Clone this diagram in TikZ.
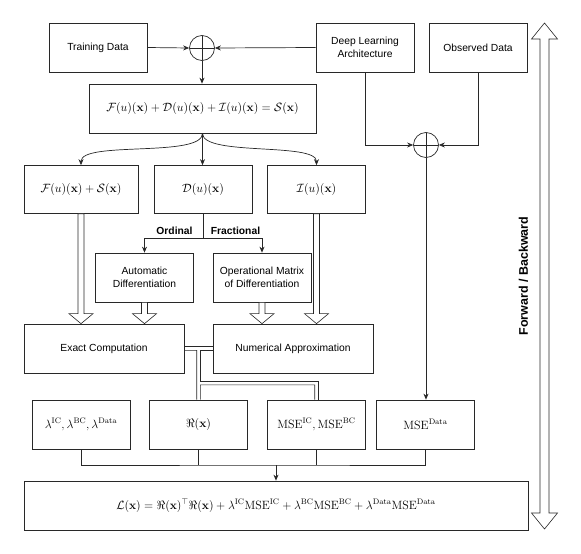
\documentclass[tikz,border=0pt]{standalone}
\usepackage{amsmath, amssymb}
\usepackage[no-math]{fontspec}
\setmainfont{Liberation Sans}
\usetikzlibrary{arrows.meta, calc}
\definecolor{lineDark}{RGB}{40, 40, 40}

% hollow (block) arrow pointing down, x taken from #1
\newcommand{\hollowdown}[2]{%
  \draw[hollowarrow] let \p1=(#1), \p2=(#2) in
    (\x1-3pt,\y1) -- (\x1-3pt,\y2+10pt) -- (\x1-12pt,\y2+10pt) -- (\x1,\y2)
    -- (\x1+12pt,\y2+10pt) -- (\x1+3pt,\y2+10pt) -- (\x1+3pt,\y1) -- cycle;}

\begin{document}
\begin{tikzpicture}[x=1pt, y=-1pt, line width=0.7pt, lineDark,
    procbox/.style={draw=lineDark, text=black, minimum width=98pt, minimum height=49pt,
      align=center, inner sep=2pt, font=\fontsize{10.3}{12.4}\selectfont},
    mathbox/.style={procbox, font=\fontsize{12}{14}\selectfont},
    sumnode/.style={circle, draw=lineDark, minimum size=25pt, inner sep=0pt,
      path picture={\draw (path picture bounding box.north) -- (path picture bounding box.south)
        (path picture bounding box.west) -- (path picture bounding box.east);}},
    arr/.style={-{Stealth[length=6pt,width=5pt]}},
    linkline/.style={line width=0.6pt, line join=miter},
    hollowarrow/.style={draw=lineDark, fill=white, line width=0.6pt, line join=miter},
    lbl/.style={text=black, font=\bfseries\fontsize{10.3}{12.4}\selectfont, inner sep=1pt}]
  \useasboundingbox (0,0) rectangle (581,554);

  % top row
  \node[procbox] (train) at (98,47.5) {Training Data};
  \node[sumnode] (sumA) at (202,48) {};
  \node[procbox] (dla) at (365,47.5) {Deep Learning\\Architecture};
  \node[procbox] (obs) at (478,47.5) {Observed Data};
  \node[sumnode] (sumB) at (426,145) {};

  \node[mathbox, minimum width=227pt, font=\fontsize{11.5}{14}\selectfont] (mainEq) at (202.5,108.5)
    {$\mathcal{F}(u)(\mathbf{x})+\mathcal{D}(u)(\mathbf{x})+\mathcal{I}(u)(\mathbf{x})=\mathcal{S}(\mathbf{x})$};

  % operators
  \node[mathbox, minimum width=114pt, minimum height=48pt] (fs) at (81,189.5) {$\mathcal{F}(u)(\mathbf{x})+\mathcal{S}(\mathbf{x})$};
  \node[mathbox, minimum height=48pt] (dop) at (203,189.5) {$\mathcal{D}(u)(\mathbf{x})$};
  \node[mathbox, minimum height=48pt] (iop) at (316.5,189.5) {$\mathcal{I}(u)(\mathbf{x})$};

  \node[procbox] (autodiff) at (144.5,277.5) {Automatic\\Differentiation};
  \node[procbox] (opmat) at (262,277.5) {Operational Matrix\\of Differentiation};

  \node[procbox, minimum width=160pt] (exact) at (104,348.5) {Exact Computation};
  \node[procbox, minimum width=160pt] (numapprox) at (293,348.5) {Numerical Approximation};

  % loss terms
  \node[mathbox] (lam) at (81,424.5) {$\lambda^{\mathrm{IC}},\lambda^{\mathrm{BC}},\lambda^{\mathrm{Data}}$};
  \node[mathbox] (res) at (198.5,424.5) {$\Re(\mathbf{x})$};
  \node[mathbox] (mseBC) at (316.5,424.5) {$\mathrm{MSE}^{\mathrm{IC}},\mathrm{MSE}^{\mathrm{BC}}$};
  \node[mathbox] (mseData) at (425.5,424.5) {$\mathrm{MSE}^{\mathrm{Data}}$};

  \node[mathbox, minimum width=504pt, font=\fontsize{11.8}{14}\selectfont] (loss) at (276,505.5)
    {$\mathcal{L}(\mathbf{x})=\Re(\mathbf{x})^{\top}\Re(\mathbf{x})+\lambda^{\mathrm{IC}}\mathrm{MSE}^{\mathrm{IC}}+\lambda^{\mathrm{BC}}\mathrm{MSE}^{\mathrm{BC}}+\lambda^{\mathrm{Data}}\mathrm{MSE}^{\mathrm{Data}}$};

  % connectors
  \draw[arr] (train.east) -- (sumA.west);
  \draw[arr] (dla.west) -- (sumA.east);
  \draw[arr] (sumA.south) -- (sumA.south |- mainEq.north);
  \draw[arr] (dla.south) |- (sumB.west);
  \draw[arr] (obs.south) |- (sumB.east);
  \draw[arr] (sumB.south) -- (sumB.south |- mseData.north);

  \draw[arr] (mainEq.south) to[out=-90, in=90, looseness=0.5] (fs.north);
  \draw[arr] (mainEq.south) -- (mainEq.south |- dop.north);
  \draw[arr] (mainEq.south) to[out=-90, in=90, looseness=0.5] (iop.north);

  \coordinate (dsplit) at (203,238);
  \draw (dop.south) -- (dsplit);
  \draw[arr] (dsplit) -| (autodiff.north);
  \draw[arr] (dsplit) -| (opmat.north);
  \node[lbl] (ordinal) at (174.5,231) {Ordinal};
  \node[lbl] (fractional) at (235.5,231) {Fractional};

  \hollowdown{fs.south}{exact.north}
  \hollowdown{autodiff.south}{exact.north}
  \hollowdown{opmat.south}{numapprox.north}
  \hollowdown{iop.south}{numapprox.north}

  % double links
  \coordinate (linkA) at ($(exact.east)!0.5!(numapprox.west)$);
  \coordinate (linkB) at ($(linkA)+(0,34.5)$);
  \coordinate (linkC) at (linkB -| mseBC.north);
  \draw[linkline] ([yshift=1.8pt]exact.east) -- ([yshift=1.8pt]numapprox.west);
  \draw[linkline] ([yshift=-1.8pt]exact.east) -- ([shift={(-1.8pt,-1.8pt)}]linkA) -- ([xshift=-1.8pt]res.north);
  \draw[linkline] ([yshift=-1.8pt]numapprox.west) -- ([shift={(1.8pt,-1.8pt)}]linkA)
    -- ([shift={(1.8pt,1.8pt)}]linkB) -- ([shift={(1.8pt,1.8pt)}]linkC) -- ([xshift=1.8pt]mseBC.north);
  \draw[linkline] ([xshift=1.8pt]res.north) -- ([shift={(1.8pt,-1.8pt)}]linkB)
    -- ([shift={(-1.8pt,-1.8pt)}]linkC) -- ([xshift=-1.8pt]mseBC.north);

  \coordinate (join) at (276,465);
  \draw (lam.south) |- (join) -| (mseData.south);
  \draw (res.south) -- (res.south |- join);
  \draw (mseBC.south) -- (mseBC.south |- join);
  \draw[arr] (join) -- (join |- loss.north);

  % forward / backward
  \coordinate (fbTop) at (544.5,23);
  \coordinate (fbBot) at (544.5,529);
  \draw[hollowarrow] let \p1=(fbTop), \p2=(fbBot) in
    (\x1,\y1) -- (\x1+13pt,\y1-16pt) -- (\x1+4.5pt,\y1-16pt) -- (\x1+4.5pt,\y2+16pt)
    -- (\x1+13pt,\y2+16pt) -- (\x1,\y2) -- (\x1-13pt,\y2+16pt) -- (\x1-4.5pt,\y2+16pt)
    -- (\x1-4.5pt,\y1-16pt) -- (\x1-13pt,\y1-16pt) -- cycle;
  \node[lbl, rotate=90, font=\bfseries\fontsize{12.5}{14}\selectfont] (fblabel) at (523.5,276) {Forward / Backward};
\end{tikzpicture}
\end{document}
